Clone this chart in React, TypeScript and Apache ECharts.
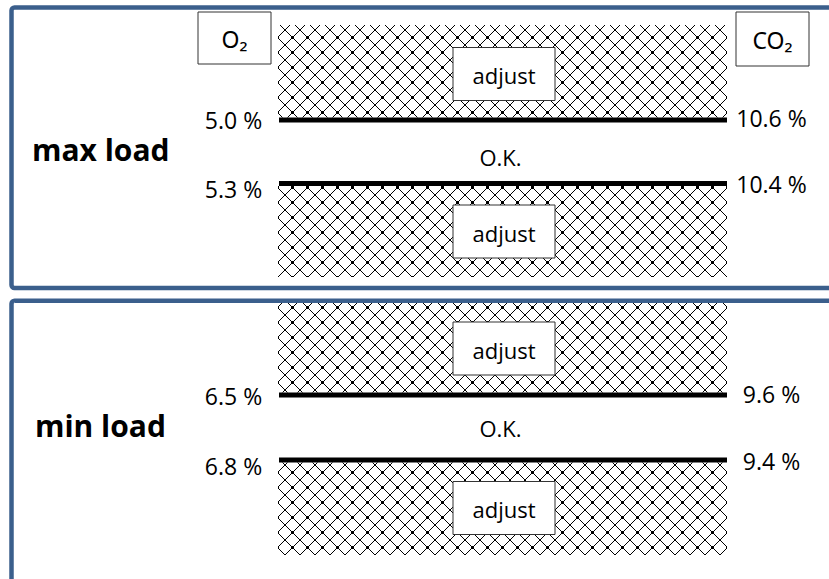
import React, { useEffect, useRef } from "react";
import * as echarts from "echarts";

// ---- data ----
const panelTitles = ["max load", "min load"];
const o2Upper = [5.0, 6.5];
const o2Lower = [5.3, 6.8];
const co2Upper = [10.6, 9.6];
const co2Lower = [10.4, 9.4];
const zoneLabels = ["adjust", "O.K.", "adjust"];
const gasLabels = ["O₂", "CO₂"];

// ---- layout ----
const FONT = "'Open Sans', 'Noto Sans', sans-serif";
const BLUE = "#3B5F8C";
const HX0 = 278;
const HX1 = 727;
const LEFT_CX = 233.5;
const RIGHT_CX = 771.5;
const layouts = [
  { borderY: 7.5, borderH: 280.5, hatchTop: 25, lineA: 120, lineB: 183.5, hatchBottom: 277, okY: 157, titleX: 32, titleY: 149.5, adjA: 74, adjB: 231.5, leftA: 119.8, leftB: 188.8, rightA: 118, rightB: 184.3 },
  { borderY: 300.8, borderH: 400, hatchTop: 303, lineA: 395, lineB: 460, hatchBottom: 555, okY: 427.5, titleX: 35, titleY: 425.5, adjA: 348.5, adjB: 508, leftA: 396, leftB: 465.5, rightA: 394.3, rightB: 460.8 },
];

const fmt = (v: number) => v.toFixed(1) + " %";

function makeHatch() {
  const c = document.createElement("canvas");
  const s = 15;
  c.width = s;
  c.height = s;
  const ctx = c.getContext("2d")!;
  ctx.fillStyle = "#fff";
  ctx.fillRect(0, 0, s, s);
  ctx.fillStyle = "#000";
  for (let i = 0; i < s; i++) {
    ctx.fillRect(i, i, 1, 1);
    ctx.fillRect(s - 1 - i, i, 1, 1);
  }
  // slightly heavier crossings
  ctx.fillRect(6, 7, 3, 1);
  ctx.fillRect(7, 6, 1, 3);
  ctx.fillRect(0, 0, 1, 1);
  return c;
}

export default function App() {
  const ref = useRef<HTMLDivElement>(null);
  useEffect(() => {
    if (!ref.current) return;
    const chart = echarts.init(ref.current, undefined, { renderer: "svg" });
    const hatch = { image: makeHatch(), repeat: "repeat" } as any;
    const els: any[] = [];
    const box = (cx: number, cy: number, w: number, h: number, text: string, fs: number, ff = FONT) => {
      els.push({
        type: "rect",
        shape: { x: cx - w / 2, y: cy - h / 2, width: w, height: h },
        style: { fill: "#fff", stroke: "#333", lineWidth: 1 },
        z: 5,
      });
      els.push({
        type: "text",
        x: cx,
        y: cy + 1,
        style: { text, fontSize: fs, fontFamily: ff, fill: "#000", align: "center", verticalAlign: "middle" },
        z: 6,
      });
    };
    const label = (x: number, y: number, text: string, fs = 23, weight: any = "normal", align = "center") => {
      els.push({
        type: "text",
        x,
        y,
        style: { text, fontSize: fs, fontWeight: weight, fontFamily: FONT, fill: "#000", align, verticalAlign: "middle" },
        z: 6,
      });
    };

    layouts.forEach((L, i) => {
      // hatched zones
      els.push({ type: "rect", shape: { x: HX0, y: L.hatchTop, width: HX1 - HX0, height: L.lineA - 2.5 - L.hatchTop }, style: { fill: hatch }, z: 1 });
      els.push({ type: "rect", shape: { x: HX0, y: L.lineB + 2.5, width: HX1 - HX0, height: L.hatchBottom - L.lineB - 2.5 }, style: { fill: hatch }, z: 1 });
      // threshold lines
      [L.lineA, L.lineB].forEach((y) => {
        els.push({ type: "line", shape: { x1: HX0 + 1, y1: y, x2: HX1, y2: y }, style: { stroke: "#000", lineWidth: 5 }, z: 3 });
      });
      // zone boxes
      box(504, L.adjA, 102, 53, zoneLabels[0], 22);
      box(504, L.adjB, 102, 53, zoneLabels[2], 22);
      label(500.5, L.okY, zoneLabels[1], 22);
      // value labels
      label(LEFT_CX, L.leftA, fmt(o2Upper[i]));
      label(LEFT_CX, L.leftB, fmt(o2Lower[i]));
      label(RIGHT_CX, L.rightA, fmt(co2Upper[i]));
      label(RIGHT_CX, L.rightB, fmt(co2Lower[i]));
      // title
      label(L.titleX, L.titleY, panelTitles[i], 30, "bold", "left");
      // panel border
      els.push({
        type: "rect",
        shape: { x: 11.5, y: L.borderY, width: 900, height: L.borderH, r: 3 },
        style: { fill: "none", stroke: BLUE, lineWidth: 4.5 },
        z: 8,
      });
    });
    // gas header boxes
    box(234.5, 38, 73, 52, gasLabels[0], 23, "'Noto Sans', sans-serif");
    box(772.5, 39, 73, 54, gasLabels[1], 23, "'Noto Sans', sans-serif");

    chart.setOption({
      animation: false,
      backgroundColor: "#fff",
      graphic: { elements: els },
    });
    return () => chart.dispose();
  }, []);
  return <div ref={ref} style={{ position: "fixed", left: 0, top: 0, width: 829, height: 579 }} />;
}
